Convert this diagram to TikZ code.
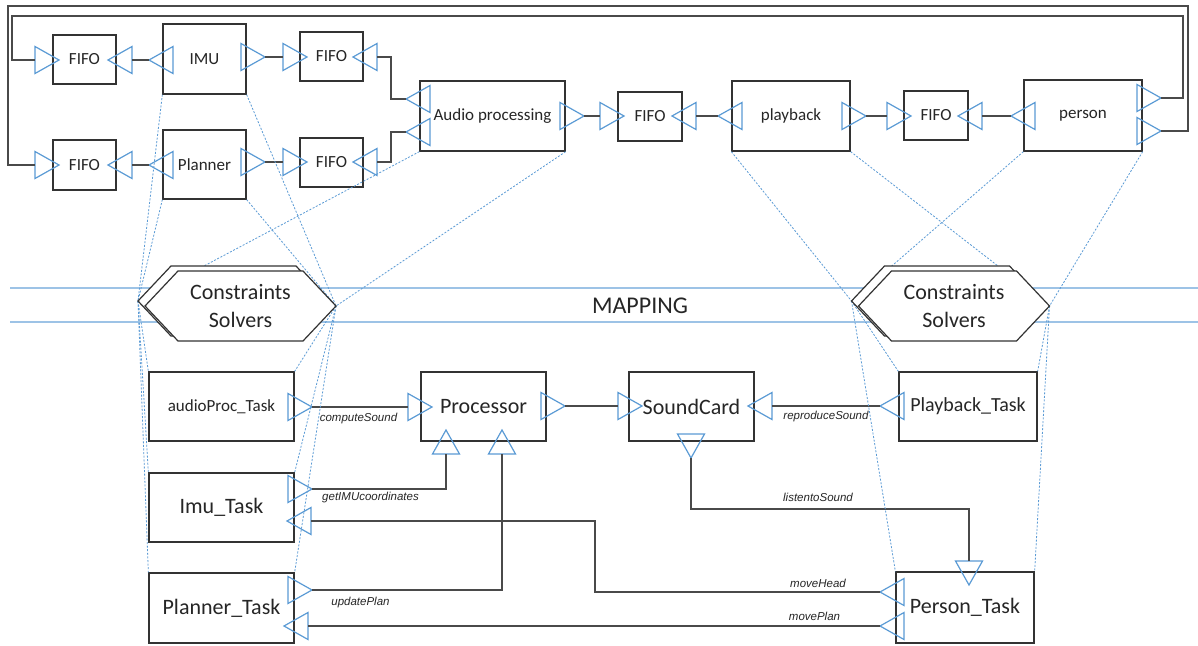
\documentclass[tikz,border=0pt]{standalone}
\usepackage{fontspec}
\setmainfont{Carlito}
\newfontfamily\labfont{Liberation Sans}
\definecolor{boxc}{HTML}{333333}
\definecolor{linec}{HTML}{4A4A4A}
\definecolor{portc}{HTML}{5B9BD5}
\definecolor{mapc}{HTML}{9DC3E6}
\definecolor{txtc}{HTML}{262626}
\tikzset{
  box/.style={draw=boxc, line width=1.3pt, inner sep=0pt, text=txtc},
  tA/.style={font=\fontsize{17}{20}\selectfont},
  tB/.style={font=\fontsize{20}{24}\selectfont},
  tC/.style={font=\fontsize{22}{28}\selectfont},
  port/.style={draw=portc, line width=1.2pt, line join=miter},
  conn/.style={draw=linec, line width=1.3pt},
  dotl/.style={draw=portc, line width=0.8pt, dash pattern=on 2pt off 1.6pt},
  mapl/.style={draw=mapc, line width=1.6pt},
  hexs/.style={draw=boxc, line width=1.2pt, fill=white, line join=miter},
  lbl/.style={font=\labfont\itshape\fontsize{11.5}{13}\selectfont, text=txtc, inner sep=0pt}
}
\newcommand{\portR}[3]{%
  \draw[port] (#2,#3-13.5) -- (#2+24,#3) -- (#2,#3+13.5) -- cycle;
  \coordinate (#1-tip) at (#2+24,#3); \coordinate (#1-base) at (#2,#3);}
\newcommand{\portL}[3]{%
  \draw[port] (#2+24,#3-13.5) -- (#2,#3) -- (#2+24,#3+13.5) -- cycle;
  \coordinate (#1-tip) at (#2,#3); \coordinate (#1-base) at (#2+24,#3);}
\newcommand{\portU}[3]{%
  \draw[port] (#2-13.5,#3+24) -- (#2,#3) -- (#2+13.5,#3+24) -- cycle;
  \coordinate (#1-tip) at (#2,#3); \coordinate (#1-base) at (#2,#3+24);}
\newcommand{\portD}[3]{%
  \draw[port] (#2-13.5,#3) -- (#2,#3+24) -- (#2+13.5,#3) -- cycle;
  \coordinate (#1-tip) at (#2,#3+24); \coordinate (#1-base) at (#2,#3);}
\newcommand{\hexshape}[2]{%
  \draw[hexs] (#1-95.5,#2) -- (#1-62.5,#2-35) -- (#1+62.5,#2-35) -- (#1+95.5,#2)
    -- (#1+62.5,#2+35) -- (#1-62.5,#2+35) -- cycle;}
\begin{document}
\begin{tikzpicture}[x=1pt,y=-1pt]
\fill[white] (0,0) rectangle (1198,645);
\useasboundingbox (0,0) rectangle (1198,645);

% ---------- top boxes ----------
\node[box,tA,minimum width=63,minimum height=49] (fifoA) at (84.5,59.5) {FIFO};
\node[box,tA,minimum width=83,minimum height=70] (imu) at (204.5,59) {IMU};
\node[box,tA,minimum width=63,minimum height=49] (fifoB) at (331.5,56.5) {FIFO};
\node[box,tA,minimum width=63,minimum height=50] (fifoC) at (84.5,165) {FIFO};
\node[box,tA,minimum width=83,minimum height=69] (planner) at (204.5,164.5) {Planner};
\node[box,tA,minimum width=63,minimum height=49] (fifoD) at (331.5,162.5) {FIFO};
\node[box,tA,minimum width=145,minimum height=70] (audio) at (492.5,116) {Audio processing};
\node[box,tA,minimum width=64,minimum height=49] (fifoE) at (650,116.5) {FIFO};
\node[box,tA,minimum width=118,minimum height=70] (playback) at (791,116) {playback};
\node[box,tA,minimum width=64,minimum height=49] (fifoF) at (936,115.5) {FIFO};
\node[box,tA,minimum width=118,minimum height=71] (person) at (1083,115.5) {person};

% ---------- top ports ----------
\portR{fAi}{35}{60} \portL{fAo}{108}{60} \portL{imuL}{149}{60} \portR{imuR}{241}{57}
\portR{fBi}{283}{57} \portL{fBo}{353}{57} \portL{auL1}{406}{99} \portL{auL2}{406}{132}
\portR{auR}{560}{116} \portR{fEi}{600}{116} \portL{fEo}{672}{116} \portL{pbL}{718}{116}
\portR{pbR}{842}{116} \portR{fFi}{887}{116} \portL{fFo}{958}{116} \portL{peL}{1011}{116}
\portR{peR1}{1137}{98} \portR{peR2}{1137}{131}
\portR{fCi}{35}{165} \portL{fCo}{108}{165} \portL{plL}{149}{165} \portR{plR}{241}{162}
\portR{fDi}{283}{162} \portL{fDo}{353}{162}

% ---------- top connectors ----------
\coordinate (jx) at (391,0);
\coordinate (loopA1) at (1183,16);
\coordinate (loopA2) at (12,16);
\coordinate (loopB1) at (1188,6);
\coordinate (loopB2) at (8,6);
\draw[conn] (fAo-base) -- (imuL-tip);
\draw[conn] (imuR-tip) -- (fBi-base);
\draw[conn] (fBo-base) -- (fBo-base -| jx) |- (auL1-tip);
\draw[conn] (fDo-base) -- (fDo-base -| jx) |- (auL2-tip);
\draw[conn] (fCo-base) -- (plL-tip);
\draw[conn] (plR-tip) -- (fDi-base);
\draw[conn] (auR-tip) -- (fEi-base);
\draw[conn] (fEo-base) -- (pbL-tip);
\draw[conn] (pbR-tip) -- (fFi-base);
\draw[conn] (fFo-base) -- (peL-tip);
\draw[conn] (peR1-tip) -| (loopA1) -- (loopA2) |- (fAi-base);
\draw[conn] (peR2-tip) -| (loopB1) -- (loopB2) |- (fCi-base);

% ---------- bottom boxes ----------
\node[box,tA,minimum width=145,minimum height=69] (apt) at (221.5,406.5) {audioProc\_Task};
\node[box,tC,minimum width=145,minimum height=69] (imt) at (221.5,507.5) {Imu\_Task};
\node[box,tC,minimum width=145,minimum height=70] (plt) at (221.5,608) {Planner\_Task};
\node[box,tC,minimum width=125,minimum height=69] (proc) at (483.5,406.5) {Processor};
\node[box,tC,minimum width=125,minimum height=69] (snd) at (691.5,406.5) {SoundCard};
\node[box,tB,minimum width=138,minimum height=69] (pbt) at (968,406.5) {Playback\_Task};
\node[box,tC,minimum width=138,minimum height=71] (pst) at (965,607.5) {Person\_Task};

% ---------- bottom ports ----------
\portR{aptR}{288}{407} \portR{prL}{408}{407} \portR{prR}{541}{406}
\portU{prB1}{446}{430} \portU{prB2}{502}{430}
\portR{sdL}{618}{406} \portL{sdR}{748}{406} \portD{sdB}{691}{434}
\portL{pbtL}{880}{406}
\portR{imtR1}{288}{489} \portL{imtR2}{287}{521}
\portR{pltR1}{288}{590} \portL{pltR2}{284}{626}
\portD{pstT}{969}{561} \portL{pstL1}{880}{592} \portL{pstL2}{880}{626}

% ---------- bottom connectors ----------
\coordinate (lsY) at (0,509);
\coordinate (mhX) at (595,0);
\draw[conn] (aptR-tip) -- (prL-base);
\draw[conn] (imtR1-tip) -| (prB1-base);
\draw[conn] (pltR1-tip) -| (prB2-base);
\draw[conn] (prR-tip) -- (sdL-base);
\draw[conn] (pbtL-tip) -- (sdR-base);
\draw[conn] (sdB-tip) -- (sdB-tip |- lsY) -| (pstT-base);
\draw[conn] (pstL1-tip) -| (mhX |- imtR2-base) -- (imtR2-base);
\draw[conn] (pstL2-tip) -- (pltR2-base);

\node[lbl] (lcs) at (358.5,419) {computeSound};
\node[lbl] (lgi) at (370.5,498) {getIMUcoordinates};
\node[lbl] (lup) at (360.5,603) {updatePlan};
\node[lbl] (lrs) at (826,417) {reproduceSound};
\node[lbl] (lls) at (818,497) {listentoSound};
\node[lbl] (lmh) at (818,583) {moveHead};
\node[lbl] (lmp) at (814.5,616) {movePlan};

% ---------- mapping band ----------
\draw[mapl] (10,288) -- (1198,288);
\draw[mapl] (10,322) -- (1198,322);
\node[font=\fontsize{24}{28}\selectfont,text=txtc] (maplbl) at (640,306) {MAPPING};

% ---------- mapping dotted lines ----------
\coordinate (hLw) at (138,301);
\coordinate (hLe) at (336,306);
\coordinate (hRw) at (851.5,301);
\coordinate (hRe) at (1049.5,306);
\draw[dotl] (imu.south west) -- (hLw);
\draw[dotl] (planner.south west) -- (hLw);
\draw[dotl] (audio.south west) -- (hLw);
\draw[dotl] (imu.south east) -- (hLe);
\draw[dotl] (planner.south east) -- (hLe);
\draw[dotl] (audio.south east) -- (hLe);
\draw[dotl] (hLw) -- (apt.north west);
\draw[dotl] (hLw) -- (imt.north west);
\draw[dotl] (hLw) -- (plt.north west);
\draw[dotl] (hLe) -- (apt.north east);
\draw[dotl] (hLe) -- (imt.north east);
\draw[dotl] (hLe) -- (plt.north east);
\draw[dotl] (playback.south west) -- (hRw);
\draw[dotl] (person.south west) -- (hRw);
\draw[dotl] (playback.south east) -- (hRe);
\draw[dotl] (person.south east) -- (hRe);
\draw[dotl] (hRw) -- (pbt.north west);
\draw[dotl] (hRw) -- (pst.north west);
\draw[dotl] (hRe) -- (pbt.north east);
\draw[dotl] (hRe) -- (pst.north east);

% ---------- constraints solvers ----------
\hexshape{233.5}{301}
\hexshape{240.5}{306}
\node[tC,text=txtc,align=center] (csL) at (240.5,306) {Constraints\\Solvers};
\hexshape{947}{301}
\hexshape{954}{306}
\node[tC,text=txtc,align=center] (csR) at (954,306) {Constraints\\Solvers};
\end{tikzpicture}
\end{document}
